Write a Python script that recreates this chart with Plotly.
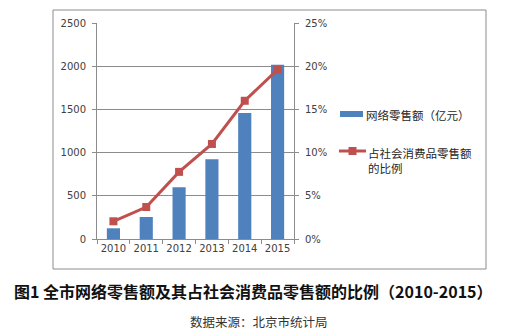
import plotly.graph_objects as go

years = ["2010", "2011", "2012", "2013", "2014", "2015"]
online_sales = [124, 255, 599, 923, 1457, 2017]          # 亿元
share_pct = [2.05, 3.7, 7.77, 11.0, 16.0, 19.6]          # %
left_ticks = [0, 500, 1000, 1500, 2000, 2500]
right_ticks = [0, 5, 10, 15, 20, 25]
right_labels = ["0%", "5%", "10%", "15%", "20%", "25%"]
bar_name = "网络零售额（亿元）"
line_name = "占社会消费品零售额<br>的比例"
caption = "图1 全市网络零售额及其占社会消费品零售额的比例（2010-2015）"
source = "数据来源：北京市统计局"

W, H = 531, 332
L, R, T, B = 97, 294, 23, 239
BLUE = "#4F81BD"
RED = "#C0504D"
GRID = "#8C8C8C"
TXT = "#404040"
CJK = "Noto Sans CJK SC"


def px(x):
    return (x - L) / (R - L)


def py(y):
    return (B - y) / (B - T)


fig = go.Figure()
fig.add_trace(go.Bar(x=years, y=online_sales, marker=dict(color=BLUE, line=dict(width=0)),
                     name=bar_name, yaxis="y"))
fig.add_trace(go.Scatter(x=years, y=share_pct, mode="lines+markers", name=line_name,
                         line=dict(color=RED, width=3),
                         marker=dict(symbol="square", size=8, color=RED),
                         yaxis="y2"))

shapes = [
    dict(type="rect", xref="paper", yref="paper", x0=px(53), x1=px(486), y0=py(269), y1=py(10),
         line=dict(color="#8C8C8C", width=1), layer="below"),
    dict(type="rect", xref="paper", yref="paper", x0=px(340), x1=px(363), y0=py(117), y1=py(111),
         line=dict(width=0), fillcolor=BLUE),
    dict(type="line", xref="paper", yref="paper", x0=px(339), x1=px(366), y0=py(151), y1=py(151),
         line=dict(color=RED, width=3)),
    dict(type="rect", xref="paper", yref="paper", x0=px(348.5), x1=px(356.5), y0=py(155), y1=py(147),
         line=dict(width=0), fillcolor=RED),
]

annotations = [
    dict(text=bar_name, xref="paper", yref="paper", x=px(364), y=py(114.5), xanchor="left",
         yanchor="middle", showarrow=False, font=dict(family=CJK, size=11.5, color="#262626")),
    dict(text=line_name, xref="paper", yref="paper", x=px(366), y=py(143), xanchor="left",
         yanchor="top", showarrow=False, align="left",
         font=dict(family=CJK, size=11.5, color="#262626")),
    dict(text="<b>" + caption + "</b>", xref="paper", yref="paper", x=px(253), y=py(291),
         xanchor="center", yanchor="middle", showarrow=False,
         font=dict(family=CJK, size=16, color="#111111")),
    dict(text=source, xref="paper", yref="paper", x=px(259), y=py(321),
         xanchor="center", yanchor="middle", showarrow=False,
         font=dict(family=CJK, size=12.5, color="#333333")),
]

fig.update_layout(
    width=W, height=H,
    margin=dict(l=L, r=W - R, t=T, b=H - B, pad=0),
    paper_bgcolor="white", plot_bgcolor="white",
    showlegend=False,
    bargap=0.6,
    font=dict(family="DejaVu Sans", size=10, color=TXT),
    xaxis=dict(type="category", showline=True, linecolor=GRID, linewidth=1,
               ticks="outside", tickson="boundaries", ticklen=4, tickcolor=GRID,
               tickangle=0, showgrid=False, tickfont=dict(size=10, color=TXT)),
    yaxis=dict(range=[0, 2500], tickmode="array", tickvals=left_ticks,
               ticktext=[str(v) for v in left_ticks],
               showline=True, linecolor=GRID, linewidth=1,
               ticks="outside", ticklen=4, tickcolor=GRID, ticklabelstandoff=4,
               showgrid=True, gridcolor=GRID, gridwidth=1, zeroline=False,
               tickfont=dict(size=10, color=TXT)),
    yaxis2=dict(range=[0, 25], tickmode="array", tickvals=right_ticks, ticktext=right_labels,
                overlaying="y", side="right", showline=True, linecolor=GRID, linewidth=1,
                ticks="outside", ticklen=4, tickcolor=GRID, ticklabelstandoff=4,
                showgrid=False, zeroline=False,
                tickfont=dict(size=10, color=TXT)),
    shapes=shapes,
    annotations=annotations,
)

fig.write_html("out.html")
